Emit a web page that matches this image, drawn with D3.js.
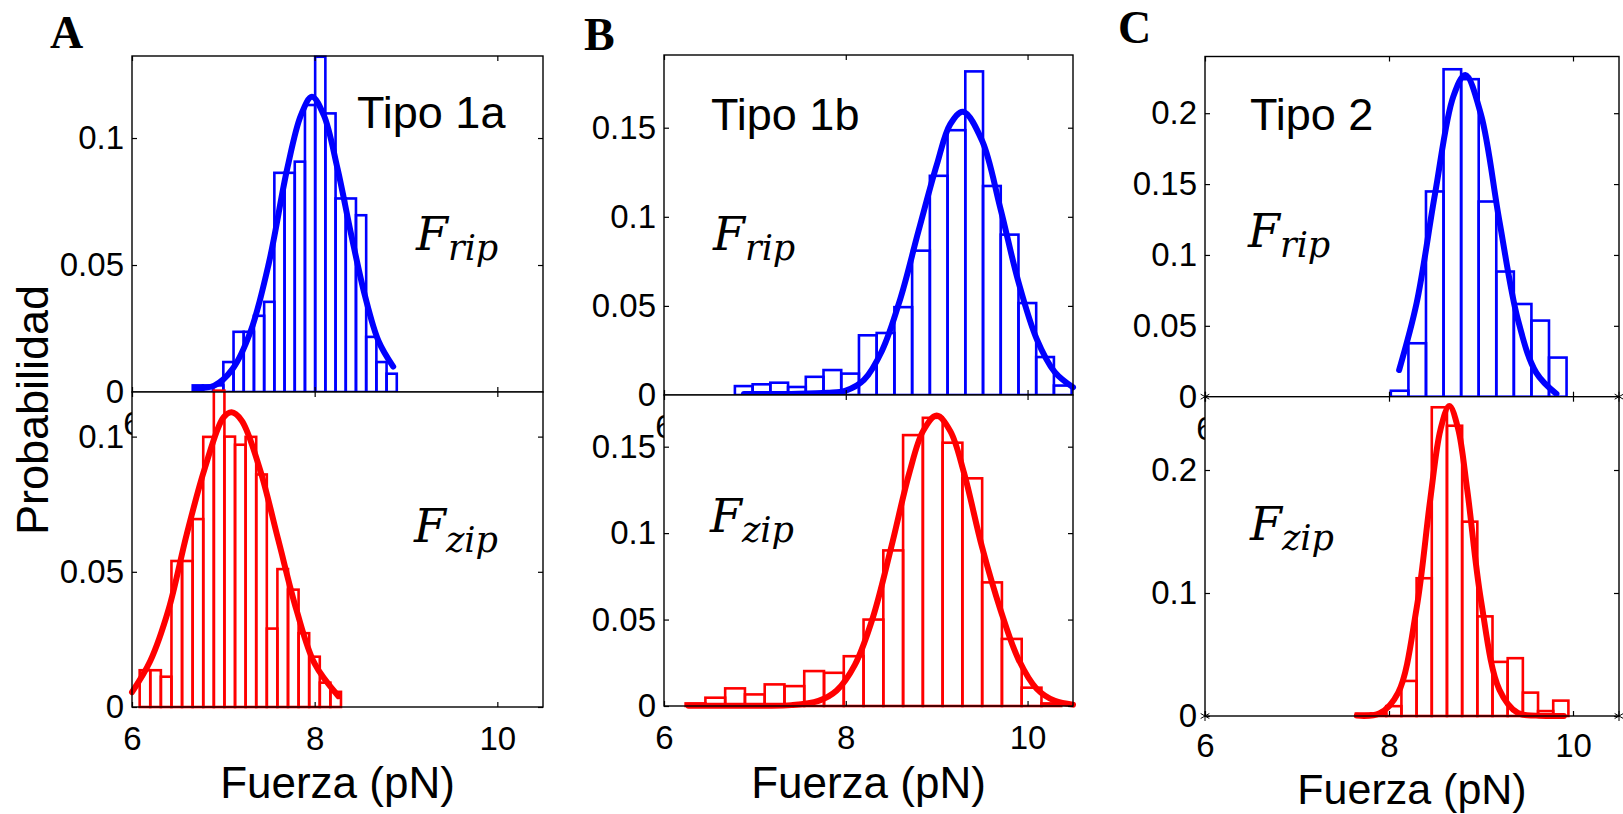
<!DOCTYPE html>
<html>
<head>
<meta charset="utf-8">
<script src="https://cdn.jsdelivr.net/npm/d3@7"></script>
<style>
  body { margin: 0; background: #fff; }
  svg { display: block; }
</style>
</head>
<body>
<svg id="chart"></svg>
<script>
// tick labels
const xTicks = [6, 8, 10];
const yTicksA = [0, 0.05, 0.1];
const yTicksB = [0, 0.05, 0.1, 0.15];
const yTicksCtop = [0, 0.05, 0.1, 0.15, 0.2];
const yTicksCbot = [0, 0.1, 0.2];

// histograms: left edge of first bin, bin width (pN), probability per bin
const ripA_x0 = 6.665, ripA_dx = 0.1117;
const ripA = [0.0026, 0.0026, 0.0026, 0.0118, 0.0237, 0.0237, 0.03, 0.0355, 0.0863, 0.0863,
              0.0907, 0.113, 0.132, 0.1097, 0.0762, 0.0762, 0.0696, 0.0217, 0.0118, 0.0072];
const zipA_x0 = 6.084, zipA_dx = 0.116;
const zipA = [0.0136, 0.0136, 0.0112, 0.054, 0.054, 0.0695, 0.0999, 0.117, 0.1, 0.097,
              0.0999, 0.086, 0.029, 0.051, 0.0434, 0.0273, 0.0186, 0.009, 0.0056];
const ripB_x0 = 6.78, ripB_dx = 0.195;
const ripB = [0.005, 0.006, 0.0069, 0.0045, 0.0102, 0.014, 0.012, 0.0335, 0.0348, 0.0493,
              0.081, 0.123, 0.1486, 0.1816, 0.1173, 0.09, 0.0516, 0.0213, 0.0053];
const zipB_x0 = 6.238, zipB_dx = 0.2175;
const zipB = [0.0015, 0.0048, 0.0102, 0.0067, 0.0125, 0.0115, 0.0202, 0.0192, 0.0288, 0.05,
              0.09, 0.1567, 0.1667, 0.1523, 0.1317, 0.0715, 0.0388, 0.0106, 0.0015];
const ripC_x0 = 8.02, ripC_dx = 0.191;
const ripC = [0.0042, 0.0377, 0.1448, 0.231, 0.224, 0.1377, 0.0883, 0.0654, 0.0537, 0.0276];
const zipC_x0 = 7.64, zipC_dx = 0.165;
const zipC = [0.002, 0.002, 0.008, 0.0285, 0.112, 0.251, 0.236, 0.158, 0.081, 0.044,
              0.047, 0.019, 0.004, 0.0125];

// fitted curves: [force, probability]
const ripAFit = [[6.69,0.0015],[6.9,0.0025],[7.1,0.009],[7.3,0.024],[7.5,0.051],[7.7,0.088],
                 [7.85,0.109],[7.97,0.1163],[8.1,0.109],[8.25,0.088],[8.4,0.062],[8.55,0.038],
                 [8.7,0.02],[8.86,0.01]];
const zipAFit = [[6.0,0.0055],[6.2,0.017],[6.4,0.036],[6.6,0.064],[6.8,0.0886],[7.0,0.107],
                 [7.09,0.109],[7.2,0.106],[7.4,0.088],[7.6,0.062],[7.8,0.036],[8.0,0.016],[8.26,0.004]];
const ripBFit = [[6.88,0.0005],[7.4,0.0006],[7.8,0.0012],[8.0,0.0025],[8.2,0.0085],[8.4,0.025],
                 [8.6,0.054],[8.8,0.092],[9.0,0.129],[9.15,0.152],[9.29,0.159],[9.5,0.1427],
                 [9.7,0.105],[9.9,0.0634],[10.1,0.0315],[10.3,0.0128],[10.5,0.0043]];
const zipBFit = [[6.27,0.0002],[7.0,0.0002],[7.4,0.0005],[7.7,0.003],[7.9,0.009],[8.1,0.0238],
                 [8.3,0.0515],[8.5,0.0918],[8.7,0.135],[8.85,0.159],[9.0,0.168],[9.15,0.159],
                 [9.3,0.135],[9.5,0.0918],[9.7,0.056],[9.9,0.027],[10.1,0.01],[10.3,0.003],[10.5,0.0008]];
const ripCFit = [[8.11,0.0188],[8.3,0.066],[8.5,0.143],[8.7,0.212],[8.83,0.227],[9.0,0.199],
                 [9.2,0.124],[9.4,0.0546],[9.6,0.017],[9.82,0.002]];
const zipCFit = [[7.65,0.0003],[7.9,0.0022],[8.1,0.019],[8.3,0.0877],[8.45,0.177],[8.56,0.233],
                 [8.656,0.252],[8.75,0.234],[8.85,0.184],[9.0,0.094],[9.2,0.0214],[9.4,0.0025],
                 [9.6,0.0003],[9.9,0.0001]];

const w = 1623;
const h = 814;
const blue = '#0000ff';
const red = '#ff0000';
const sans = '"Liberation Sans", Arial, sans-serif';
const serif = '"Liberation Serif", "Times New Roman", serif';
const math = '"DejaVu Serif", serif';

let svg = d3.select('#chart').attr('width', w).attr('height', h);
svg.append('rect').attr('width', w).attr('height', h).attr('fill', '#fff');

// one MATLAB-like axes box with histogram + fit
// isUpper: the x labels of the upper box sit under the lower box, only the "6" peeks out
let drawAxes = (box, yTop, yZero, yMax, x0, dx, probs, fit, color, yTicks, isUpper) => {
    let x = d3.scaleLinear().domain([6, 10.5]).range([box.left, box.right]);
    let y = d3.scaleLinear().domain([0, yMax]).range([yZero, yTop]);
    let g = svg.append('g');

    g.append('rect')
     .attr('x', box.left).attr('y', yTop)
     .attr('width', box.right - box.left).attr('height', yZero - yTop)
     .attr('fill', '#fff');

    g.selectAll('rect.bar')
     .data(probs)
     .join('rect')
     .attr('class', 'bar')
     .attr('x', (d, i) => x(x0 + i * dx))
     .attr('width', (d, i) => x(x0 + (i + 1) * dx) - x(x0 + i * dx))
     .attr('y', d => y(d))
     .attr('height', d => y(0) - y(d))
     .attr('fill', 'none')
     .attr('stroke', color)
     .attr('stroke-width', 2.6);

    let line = d3.line()
                 .x(d => x(d[0]))
                 .y(d => y(d[1]))
                 .curve(d3.curveCatmullRom.alpha(0.5));
    g.append('path')
     .datum(fit)
     .attr('d', line)
     .attr('fill', 'none')
     .attr('stroke', color)
     .attr('stroke-width', 6)
     .attr('stroke-linecap', 'round')
     .attr('stroke-linejoin', 'round');

    let left = d3.axisLeft(y).tickValues(yTicks).tickSizeInner(-5).tickSizeOuter(0)
                 .tickPadding(8).tickFormat(d => String(d));
    let right = d3.axisRight(y).tickValues(yTicks).tickSizeInner(-5).tickSizeOuter(0).tickFormat('');
    let top = d3.axisTop(x).tickValues(xTicks).tickSizeInner(-5).tickSizeOuter(0).tickFormat('');
    let bottom = d3.axisBottom(x).tickValues(xTicks).tickSizeInner(-5).tickSizeOuter(0)
                   .tickPadding(isUpper ? 20 : box.padX)
                   .tickFormat(d => (isUpper && d !== 6) ? '' : String(d));

    g.append('g').attr('transform', `translate(${box.left},0)`).call(left);
    g.append('g').attr('transform', `translate(${box.right},0)`).call(right);
    g.append('g').attr('transform', `translate(0,${yTop})`).call(top);
    g.append('g').attr('transform', `translate(0,${yZero})`).call(bottom);

    g.selectAll('.domain').remove();
    g.selectAll('.tick text').filter(function() { return this.textContent === ''; }).remove();
    g.selectAll('.tick line').attr('stroke', '#000').attr('stroke-width', 1.2);
    g.selectAll('.tick text')
     .attr('font-family', sans)
     .attr('font-size', 33)
     .attr('fill', '#000');

    g.append('rect')
     .attr('x', box.left).attr('y', yTop)
     .attr('width', box.right - box.left).attr('height', yZero - yTop)
     .attr('fill', 'none')
     .attr('stroke', '#000')
     .attr('stroke-width', 1.4);
}

let star = (cx, cy) => {
    [30, 90, 150].forEach(a => {
        let r = 5, t = a * Math.PI / 180;
        svg.append('line')
           .attr('x1', cx - r * Math.cos(t)).attr('y1', cy - r * Math.sin(t))
           .attr('x2', cx + r * Math.cos(t)).attr('y2', cy + r * Math.sin(t))
           .attr('stroke', '#000').attr('stroke-width', 1);
    });
}

let label = (x, y, main, sub) => {
    let t = svg.append('text')
               .attr('x', x).attr('y', y)
               .attr('font-family', math)
               .attr('font-style', 'italic')
               .attr('font-size', 46)
               .attr('fill', '#000');
    t.append('tspan').text(main);
    t.append('tspan').attr('font-size', 35).attr('dy', 10).text(sub);
}

let text = (x, y, s, size, family, weight, anchor) => {
    svg.append('text')
       .attr('x', x).attr('y', y)
       .attr('font-family', family)
       .attr('font-size', size)
       .attr('font-weight', weight || 'normal')
       .attr('text-anchor', anchor || 'start')
       .attr('fill', '#000')
       .text(s);
}

// panel A
let boxA = {left: 132, right: 543, padX: 20};
drawAxes(boxA, 56, 392, 0.1323, ripA_x0, ripA_dx, ripA, ripAFit, blue, yTicksA, true);
drawAxes(boxA, 392, 707, 0.1165, zipA_x0, zipA_dx, zipA, zipAFit, red, yTicksA, false);

// panel B
let boxB = {left: 664, right: 1073, padX: 20};
drawAxes(boxB, 55, 395, 0.1908, ripB_x0, ripB_dx, ripB, ripBFit, blue, yTicksB, true);
drawAxes(boxB, 395, 706, 0.1799, zipB_x0, zipB_dx, zipB, zipBFit, red, yTicksB, false);

// panel C
let boxC = {left: 1205, right: 1619, padX: 18};
drawAxes(boxC, 56.5, 396.7, 0.240, ripC_x0, ripC_dx, ripC, ripCFit, blue, yTicksCtop, true);
drawAxes(boxC, 396.7, 716, 0.2596, zipC_x0, zipC_dx, zipC, zipCFit, red, yTicksCbot, false);
star(boxC.left, 396.7); star(boxC.right, 396.7);
star(boxC.left, 716); star(boxC.right, 716);

// panel letters
text(50, 48, 'A', 46, serif, 'bold');
text(584, 50, 'B', 46, serif, 'bold');
text(1118, 43, 'C', 46, serif, 'bold');

// type labels
text(357, 128, 'Tipo 1a', 45, sans);
text(711, 130, 'Tipo 1b', 45, sans);
text(1250, 130, 'Tipo 2', 45, sans);

// force labels
label(416, 250, 'F', 'rip');
label(713, 250, 'F', 'rip');
label(1248, 247, 'F', 'rip');
label(414, 542, 'F', 'zip');
label(710, 532, 'F', 'zip');
label(1250, 540, 'F', 'zip');

// axis titles
text((boxA.left + boxA.right) / 2, 798, 'Fuerza (pN)', 44, sans, 'normal', 'middle');
text((boxB.left + boxB.right) / 2, 798, 'Fuerza (pN)', 44, sans, 'normal', 'middle');
text((boxC.left + boxC.right) / 2, 804, 'Fuerza (pN)', 43, sans, 'normal', 'middle');

svg.append('text')
   .attr('transform', 'translate(48,410) rotate(-90)')
   .attr('font-family', sans)
   .attr('font-size', 45)
   .attr('text-anchor', 'middle')
   .attr('fill', '#000')
   .text('Probabilidad');
</script>
</body>
</html>
